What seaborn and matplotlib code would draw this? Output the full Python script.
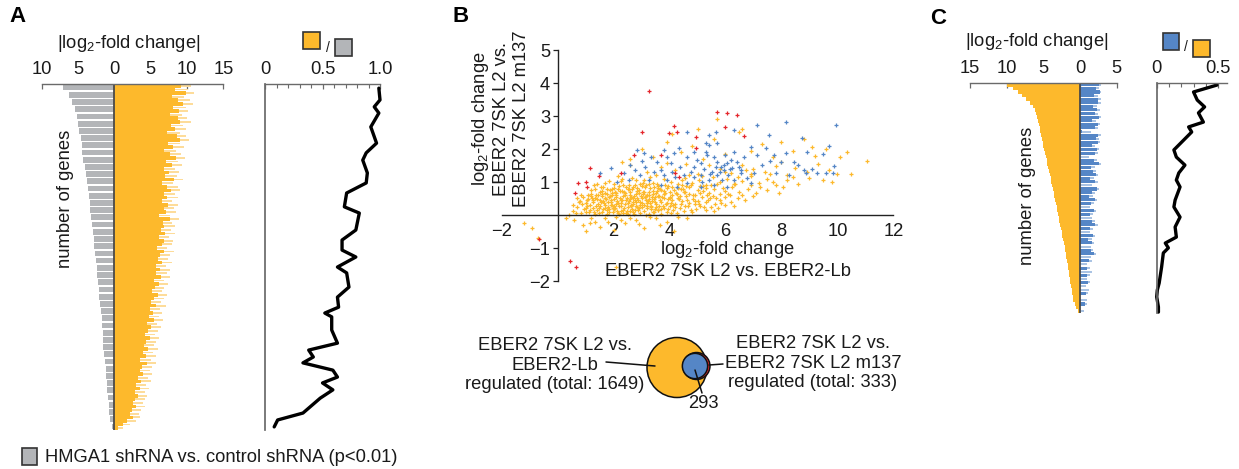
import numpy as np
import matplotlib
matplotlib.use("Agg")
import matplotlib.pyplot as plt
import seaborn as sns
from matplotlib.patches import Rectangle, Circle
from matplotlib.ticker import MultipleLocator

# ---------------- DATA ----------------
# Panel A: bars (rank ordered genes, top -> bottom)
a_grey = [7.0, 6.3, 5.8, 5.4, 5.15, 4.95, 4.8, 4.65, 4.5, 4.4, 4.25, 4.1, 3.95, 3.8, 3.65, 3.5,
          3.4, 3.3, 3.15, 3.05, 2.95, 2.85, 2.75, 2.65, 2.55, 2.45, 2.35, 2.25, 2.15, 2.05, 1.95, 1.85,
          1.75, 1.7, 1.6, 1.55, 1.5, 1.4, 1.3, 1.2, 1.1, 1.0, 0.95, 0.85, 0.8, 0.7, 0.55, 0.3]
a_orange = [9.2, 8.4, 9.8, 7.9, 8.8, 9.5, 8.1, 8.9,
            7.6, 8.7, 9.1, 7.8, 8.3, 7.2, 8.6, 9.0,
            7.4, 8.1, 6.9, 7.7, 8.5, 7.1, 7.9, 6.8,
            7.5, 7.0, 8.2, 6.6, 7.3, 7.8, 6.9, 7.2,
            6.5, 7.4, 6.8, 7.1, 6.2, 7.6, 6.7, 6.9,
            6.4, 7.0, 6.1, 6.8, 6.5, 5.9, 6.9, 6.3,
            6.0, 6.6, 5.7, 6.3, 5.8, 6.4, 5.5, 6.1,
            5.6, 5.2, 6.0, 5.4, 5.0, 5.8, 4.9, 5.3,
            4.8, 5.4, 4.5, 5.0, 4.6, 4.2, 4.9, 4.4,
            4.1, 4.7, 3.9, 4.3, 3.6, 4.5, 3.8, 3.5,
            3.9, 3.3, 3.7, 3.0, 3.5, 2.8, 3.2, 2.9,
            2.6, 3.0, 2.4, 2.1, 2.5, 1.8, 1.2, 0.5]
a_orange_pale = [10.6, 10.1, 11.0, 9.6, 10.4, 10.8, 9.9, 10.2,
                 9.3, 10.0, 10.5, 9.4, 9.8, 9.0, 9.9, 10.3,
                 9.0, 9.6, 8.5, 9.2, 9.7, 8.8, 9.3, 8.4,
                 8.9, 8.6, 9.5, 8.1, 8.8, 9.1, 8.3, 8.7,
                 8.0, 8.7, 8.2, 8.5, 7.7, 8.9, 8.0, 8.3,
                 7.8, 8.4, 7.5, 8.1, 7.9, 7.3, 8.2, 7.6,
                 7.4, 7.9, 7.1, 7.6, 7.2, 7.7, 6.9, 7.4,
                 6.9, 6.6, 7.3, 6.8, 6.4, 7.1, 6.3, 6.6,
                 6.2, 6.7, 5.9, 6.4, 6.0, 5.6, 6.2, 5.8,
                 5.5, 6.0, 5.3, 5.7, 5.0, 5.8, 5.2, 4.9,
                 5.2, 4.7, 5.0, 4.4, 4.8, 4.2, 4.5, 4.2,
                 3.9, 4.2, 3.7, 3.4, 3.6, 3.0, 2.2, 1.2]
# Panel A: ratio (orange / grey) along gene rank (percent)
a_ratio_pos = [1.2, 4.6, 6.6, 8.4, 12.4, 17.1, 19.9, 22, 25.7, 28.6, 31.5, 35.5, 37.3, 42.2, 45.1, 48,
               50, 52.9, 54.6, 58.7, 61.6, 64.5, 66.2, 67.3, 71.1, 74.9, 76.9, 78.9, 80.6, 82.7, 84.7,
               86.4, 88.4, 90.8, 95.1, 97.1, 99.1]
a_ratio = [0.99, 1.0, 0.95, 0.99, 0.92, 0.97, 0.88, 0.85, 0.89, 0.88, 0.71, 0.69, 0.82, 0.79, 0.67, 0.67,
           0.79, 0.63, 0.71, 0.73, 0.63, 0.64, 0.52, 0.58, 0.58, 0.63, 0.38, 0.42, 0.33, 0.59, 0.63,
           0.50, 0.59, 0.48, 0.33, 0.11, 0.08]

# Panel B: scatter
orange_pts = [
    (0.6, -0.15), (0.9, -0.3), (1.2, -0.1), (1.5, -0.35), (1.8, -0.2), (2.1, -0.05), (2.4, -0.25), (2.0, -0.45),
    (1.0, -0.5), (2.8, -0.15), (3.1, -0.4), (3.5, -0.1), (3.9, -0.2), (4.3, -0.05), (4.63, -0.1), (1.35, -0.2),
    (2.6, -0.1), (3.3, -0.05), (4.16, -0.5), (2.07, -1.57), (-1.22, -0.25), (-0.92, -0.38), (-0.72, -0.7), (0.3, -0.1),
    (0.55, 0.12), (0.7, 0.25), (0.82, 0.05), (0.95, 0.18), (1.05, 0.28), (1.12, 0.08), (1.25, 0.2), (1.33, 0.02),
    (1.41, 0.15), (1.52, 0.27), (1.6, 0.1), (1.68, 0.22), (1.75, 0.04), (1.83, 0.17), (1.9, 0.29), (1.98, 0.09),
    (2.05, 0.21), (2.12, 0.13), (2.2, 0.03), (2.28, 0.26), (2.35, 0.16), (2.43, 0.07), (2.5, 0.24), (2.58, 0.11),
    (2.66, 0.19), (2.73, 0.02), (2.8, 0.28), (2.88, 0.14), (2.95, 0.06), (3.03, 0.23), (3.1, 0.12), (3.18, 0.27),
    (3.25, 0.04), (3.33, 0.18), (3.42, 0.09), (3.5, 0.25), (3.6, 0.14), (3.7, 0.03), (3.8, 0.21), (3.9, 0.1),
    (4.0, 0.27), (4.12, 0.16), (4.25, 0.06), (4.38, 0.22), (4.5, 0.12), (4.65, 0.26), (4.8, 0.08), (4.95, 0.19),
    (5.1, 0.28), (5.3, 0.15), (5.5, 0.24), (5.75, 0.2), (6.0, 0.29), (6.3, 0.27), (1.15, 0.14), (1.47, 0.06),
    (1.79, 0.25), (2.0, 0.18), (2.32, 0.05), (2.62, 0.28), (2.9, 0.2), (3.15, 0.01), (3.47, 0.17), (3.75, 0.26),
    (4.05, 0.07), (2.18, 0.27), (1.62, 0.19), (2.7, 0.1), (3.35, 0.28), (3.95, 0.19),
    (0.8, 0.42), (0.92, 0.55), (1.0, 0.35), (1.1, 0.48), (1.18, 0.58), (1.27, 0.38), (1.35, 0.5), (1.43, 0.32),
    (1.5, 0.45), (1.57, 0.57), (1.65, 0.36), (1.72, 0.49), (1.8, 0.4), (1.87, 0.59), (1.95, 0.31), (2.02, 0.47),
    (2.1, 0.55), (2.17, 0.37), (2.25, 0.44), (2.32, 0.58), (2.4, 0.33), (2.47, 0.52), (2.55, 0.41), (2.62, 0.56),
    (2.7, 0.34), (2.78, 0.46), (2.85, 0.53), (2.93, 0.38), (3.0, 0.5), (3.08, 0.31), (3.15, 0.57), (3.23, 0.43),
    (3.3, 0.35), (3.38, 0.54), (3.45, 0.47), (3.53, 0.32), (3.6, 0.59), (3.7, 0.4), (3.8, 0.51), (3.9, 0.36),
    (4.0, 0.56), (4.1, 0.44), (4.2, 0.33), (4.32, 0.52), (4.45, 0.41), (4.58, 0.57), (4.7, 0.35), (4.85, 0.49),
    (5.0, 0.42), (5.15, 0.55), (5.3, 0.38), (5.45, 0.5), (5.62, 0.33), (5.8, 0.46), (6.0, 0.55), (6.2, 0.4),
    (6.45, 0.52), (6.7, 0.45), (7.0, 0.58), (1.22, 0.52), (1.54, 0.38), (1.9, 0.46), (2.28, 0.36), (2.58, 0.49),
    (2.97, 0.58), (3.27, 0.49), (3.65, 0.45), (4.05, 0.37), (4.38, 0.59), (4.9, 0.32), (5.55, 0.58), (2.12, 0.42),
    (1.68, 0.53), (2.8, 0.39), (3.48, 0.56),
    (1.2, 0.65), (1.35, 0.78), (1.5, 0.7), (1.62, 0.86), (1.75, 0.63), (1.88, 0.75), (2.0, 0.82), (2.1, 0.67),
    (2.2, 0.88), (2.3, 0.72), (2.4, 0.61), (2.5, 0.8), (2.6, 0.69), (2.7, 0.85), (2.8, 0.64), (2.9, 0.77),
    (3.0, 0.87), (3.1, 0.7), (3.2, 0.62), (3.3, 0.83), (3.4, 0.74), (3.5, 0.66), (3.6, 0.89), (3.7, 0.76),
    (3.8, 0.63), (3.9, 0.81), (4.0, 0.71), (4.1, 0.86), (4.25, 0.65), (4.4, 0.78), (4.55, 0.69), (4.7, 0.84),
    (4.85, 0.62), (5.0, 0.76), (5.2, 0.88), (5.4, 0.68), (5.6, 0.8), (5.8, 0.64), (6.0, 0.74), (6.25, 0.85),
    (6.5, 0.7), (6.8, 0.79), (7.1, 0.66), (7.5, 0.75), (7.9, 0.68), (2.05, 0.7), (2.45, 0.86), (2.85, 0.72),
    (3.25, 0.69), (3.65, 0.8), (4.15, 0.76), (4.6, 0.88), (5.1, 0.66), (2.65, 0.78), (3.05, 0.64), (1.95, 0.6),
    (3.45, 0.86), (3.85, 0.68), (5.3, 0.81), (6.1, 0.63),
    (2.0, 0.95), (2.3, 1.1), (2.55, 0.92), (2.8, 1.05), (3.05, 0.98), (3.3, 1.15), (3.55, 0.93), (3.8, 1.08),
    (4.05, 1.0), (4.3, 0.94), (4.55, 1.12), (4.8, 0.97), (5.05, 1.06), (5.3, 0.91), (5.55, 1.14), (5.8, 1.0),
    (6.05, 1.09), (6.3, 0.93), (6.6, 1.04), (6.9, 1.18), (7.2, 0.96), (7.5, 1.1), (7.8, 0.92), (8.2, 1.05),
    (8.6, 0.95), (9.0, 1.12), (1.7, 0.98), (2.15, 1.18), (3.15, 0.9), (4.45, 1.05), (5.7, 0.95), (6.45, 1.16),
    (3.2, 1.3), (3.7, 1.45), (4.2, 1.35), (4.6, 1.55), (5.0, 1.25), (5.4, 1.5), (5.8, 1.38), (6.2, 1.28),
    (6.6, 1.52), (7.0, 1.4), (7.4, 1.3), (7.8, 1.48), (8.2, 1.22), (8.5, 1.42), (8.9, 1.3), (9.3, 1.55),
    (9.7, 1.35), (10.0, 1.25), (10.5, 1.25), (11.05, 1.65), (2.6, 1.5), (2.3, 1.6), (3.9, 1.58), (6.9, 1.25),
    (8.0, 1.6), (9.5, 1.05), (9.8, 1.0),
    (3.4, 1.75), (3.9, 2.2), (4.4, 1.9), (4.8, 2.1), (5.2, 1.7), (5.6, 2.3), (6.0, 1.85), (6.5, 2.5),
    (6.9, 1.95), (7.3, 2.15), (7.7, 1.75), (8.0, 2.2), (8.4, 1.95), (8.8, 2.3), (9.2, 1.8), (9.6, 2.0),
    (10.1, 1.75), (10.35, 1.9), (4.1, 2.45), (5.7, 2.9), (6.6, 2.6), (5.0, 2.6), (3.0, 2.0), (2.6, 1.7), (9.1, 2.05),
    (1.08, 0.62), (1.3, 0.9), (1.44, 0.62), (1.58, 0.74), (1.7, 0.3), (1.85, 0.08), (1.93, 0.68), (2.08, 0.33),
    (2.15, 0.79), (2.26, 0.12), (2.37, 0.7), (2.44, 0.45), (2.52, 0.03), (2.6, 0.62), (2.68, 0.4), (2.76, 0.9),
    (2.83, 0.23), (2.92, 0.67), (3.01, 0.37), (3.12, 0.84), (3.2, 0.2), (3.28, 0.6), (3.36, 0.42), (3.44, 0.09),
    (3.55, 0.72), (3.62, 0.28), (3.73, 0.55), (3.85, 0.92), (3.93, 0.47), (4.08, 0.62), (4.18, 0.24), (4.3, 0.82),
    (4.42, 0.34), (4.52, 0.7), (4.62, 0.46), (4.75, 0.15), (4.9, 0.6), (5.05, 0.32), (5.2, 0.72), (5.38, 0.45),
    (5.6, 0.12), (5.85, 0.35), (1.38, 0.28), (1.25, 0.44), (1.0, 0.22), (0.88, 0.32), (0.65, 0.05), (0.75, 0.38),
    (1.6, 0.64), (1.78, 0.8), (2.35, 0.9), (2.95, 0.95), (3.4, 0.97), (2.5, 0.35), (2.22, 0.5), (1.97, 0.22),
    (3.58, 0.16), (3.16, 0.45), (2.74, 0.57), (4.46, 0.9),
    (1.05, 0.45), (1.14, 0.3), (1.21, 0.75), (1.29, 0.1), (1.36, 0.62), (1.42, 0.48), (1.49, 0.2), (1.55, 0.85),
    (1.63, 0.42), (1.7, 0.68), (1.77, 0.14), (1.84, 0.55), (1.91, 0.38), (1.96, 0.8), (2.03, 0.26), (2.09, 0.61),
    (2.16, 0.07), (2.23, 0.74), (2.29, 0.46), (2.36, 0.22), (2.42, 0.66), (2.49, 0.13), (2.56, 0.78), (2.63, 0.31),
    (2.69, 0.5), (2.75, 0.16), (2.82, 0.82), (2.89, 0.44), (2.96, 0.29), (3.04, 0.71), (3.11, 0.56), (3.19, 0.35),
    (3.26, 0.93), (3.34, 0.25), (3.41, 0.65), (3.49, 0.4), (3.57, 0.83), (3.64, 0.58), (3.71, 0.19), (3.79, 0.73),
    (3.87, 0.33), (3.96, 0.88), (4.03, 0.5), (4.13, 0.29), (4.22, 0.68), (4.34, 0.47), (4.48, 0.8), (4.56, 0.27),
    (4.68, 0.64), (4.78, 0.91), (4.92, 0.41), (5.08, 0.87), (5.24, 0.25), (5.35, 0.61), (5.48, 0.9), (5.66, 0.5),
    (5.9, 0.82), (6.15, 0.6), (6.35, 0.95), (6.6, 0.62), (6.9, 0.9), (7.25, 0.85), (7.7, 1.0), (8.05, 0.85),
    (8.4, 1.15), (1.02, 0.09), (0.7, 0.5), (0.85, 0.6), (1.4, 0.95), (1.82, 1.02), (2.25, 1.03), (2.65, 1.12),
    (3.1, 1.05), (3.5, 1.2), (4.7, 1.2), (5.15, 1.18), (6.0, 1.3), (6.75, 1.35), (7.6, 1.25), (1.15, -0.25),
    (1.7, -0.1), (2.25, -0.15), (2.9, -0.28), (3.65, -0.3), (0.55, 0.3), (0.4, 0.0)]
blue_pts = [
    (4.63, 2.53), (5.41, 2.42), (5.65, 2.53), (5.29, 2.17), (5.41, 2.12), (5.71, 2.17), (6.3, 2.58), (7.14, 2.73),
    (7.56, 2.42), (8.15, 2.83), (8.75, 2.32), (9.95, 2.73), (9.7, 2.09), (9.47, 1.85), (9.89, 1.48), (9.59, 1.28),
    (9.29, 1.26), (8.81, 1.36), (8.45, 1.62), (8.15, 1.87), (7.98, 1.62), (7.8, 1.26), (8.27, 1.21), (8.93, 1.92),
    (7.44, 2.02), (7.14, 1.82), (6.9, 2.07), (6.66, 1.77), (7.02, 1.26), (6.78, 1.11), (6.9, 0.96), (6.54, 1.26),
    (6.24, 1.41), (6.07, 1.57), (5.83, 1.46), (5.59, 1.77), (5.35, 1.82), (5.11, 1.57), (4.87, 1.46), (4.63, 1.77),
    (4.33, 2.02), (4.16, 1.87), (3.8, 1.97), (3.56, 1.62), (3.32, 1.77), (3.08, 1.87), (2.84, 1.97), (2.6, 1.52),
    (2.36, 1.26), (2.13, 1.01), (2.54, 1.06), (2.96, 1.21), (3.26, 1.06), (3.68, 1.36), (3.92, 1.06), (4.27, 0.86),
    (4.63, 0.96), (4.87, 1.16), (5.11, 1.21), (5.41, 1.06), (5.71, 1.21), (5.95, 1.36), (6.18, 1.67), (6.0, 1.82),
    (5.29, 1.92), (4.99, 1.67), (4.39, 1.46), (4.04, 1.57), (3.44, 1.31), (3.14, 1.46), (1.89, 1.41), (1.53, 1.26),
    (6.07, 0.86), (5.59, 0.91), (5.11, 0.86), (3.68, 0.91), (9.83, 1.26), (8.87, 1.26), (7.74, 1.82), (6.3, 1.92),
    (6.48, 1.46), (5.53, 1.31), (4.75, 1.31), (4.21, 1.16), (3.8, 1.21), (5.89, 1.06), (5.17, 1.01), (4.87, 1.92),
    (5.71, 1.62), (5.8, 1.3), (6.1, 1.2), (6.3, 1.05), (5.95, 1.5), (6.15, 1.4), (5.65, 1.45), (5.45, 1.25),
    (6.4, 1.6), (6.55, 1.35), (5.25, 1.4), (4.5, 1.2), (4.1, 1.3), (3.9, 1.75), (3.0, 1.65), (2.75, 1.35),
    (7.3, 1.5), (7.6, 1.65), (8.6, 1.5), (9.1, 1.4)]
red_pts = [
    (3.26, 3.77), (5.7, 3.13), (6.07, 3.1), (6.4, 3.03), (4.15, 2.7), (3.0, 2.5), (3.98, 2.47), (4.27, 2.5),
    (6.0, 2.68), (4.93, 2.37), (6.66, 2.39), (1.15, 1.41), (0.73, 0.96), (1.03, 1.01), (0.61, 0.66), (1.47, 1.18),
    (2.27, 1.28), (2.72, 1.82), (3.68, 1.82), (4.2, 1.26), (-0.68, -0.74), (0.43, -1.38), (0.67, -1.59),
    (4.33, 1.16), (4.93, 2.02), (1.05, 0.86)]

# Venn counts
venn_total_lb = 1649
venn_total_m137 = 333
venn_overlap = 293

# Panel C: bars
c_orange = [10.0, 9.2, 8.5, 7.9, 7.3, 6.8, 6.4, 6.15, 5.95, 5.8, 5.7, 5.6, 5.5, 5.4, 5.3, 5.2,
            5.1, 5.0, 4.85, 4.75, 4.65, 4.55, 4.45, 4.35, 4.25, 4.15, 4.0, 3.9, 3.8, 3.7, 3.6, 3.5,
            3.4, 3.3, 3.2, 3.1, 3.0, 2.9, 2.8, 2.7, 2.6, 2.5, 2.4, 2.3, 2.2, 2.1, 2.0, 1.95,
            1.85, 1.75, 1.7, 1.6, 1.5, 1.45, 1.35, 1.3, 1.2, 1.15, 1.05, 1.0, 0.9, 0.75, 0.55, 0.3]
c_blue = [2.6, 2.2, 2.7, 1.9, 2.4, 2.5, 1.8, 2.3,
          2.1, 2.6, 1.7, 2.4, 2.0, 0.3, 2.5, 2.2,
          2.4, 1.6, 2.3, 2.1, 0, 1.9, 2.6, 1.5,
          1.8, 2.2, 1.4, 2.0, 0, 2.3, 1.7, 1.2,
          2.0, 1.5, 0, 1.9, 1.3, 0.2, 1.7, 2.1,
          1.4, 0, 1.8, 1.1, 1.6, 0, 1.5, 1.9,
          0, 1.2, 0, 1.0, 0, 0.9, 0, 1.1,
          0, 0, 0.8, 0, 0, 0.7, 0, 0]
c_blue_pale = [2.9, 2.6, 2.9, 2.4, 2.8, 2.8, 2.3, 2.7,
               2.5, 2.9, 2.2, 2.7, 2.4, 1.5, 2.8, 2.6,
               2.7, 2.1, 2.6, 2.5, 1.2, 2.3, 2.9, 2.0,
               2.2, 2.5, 1.9, 2.4, 1.6, 2.6, 2.1, 1.8,
               2.3, 1.9, 1.4, 2.2, 1.8, 1.7, 2.1, 2.4,
               1.8, 1.3, 2.1, 1.6, 1.9, 1.5, 1.8, 2.2,
               1.5, 1.6, 1.0, 1.4, 1.7, 1.3, 1.0, 1.4,
               0.8, 1.2, 1.1, 0, 1.0, 0.9, 0, 0.6]
c_ratio_pos = [0.9, 3.9, 7.4, 10.4, 13, 17, 19.1, 21.3, 24.8, 29.1, 32.2, 35.7, 39.1, 42.2, 45.2, 50.9,
               53.9, 58.3, 62.6, 67, 69.6, 71.7, 73.9, 80, 87, 90, 93, 97.4, 99.6]
c_ratio = [0.49, 0.30, 0.33, 0.39, 0.34, 0.38, 0.26, 0.285, 0.22, 0.14, 0.16, 0.23, 0.18, 0.16, 0.19, 0.15,
           0.14, 0.19, 0.15, 0.16, 0.07, 0.095, 0.054, 0.04, 0.02, 0.005, 0.0, 0.014, 0.014]

# ---------------- STYLE ----------------
W, H = 1239, 469
sns.set_theme(style="white")
plt.rcParams['font.family'] = ['Liberation Sans', 'DejaVu Sans']
plt.rcParams['mathtext.fontset'] = 'custom'
plt.rcParams['mathtext.rm'] = 'Liberation Sans'
plt.rcParams['mathtext.it'] = 'Liberation Sans:italic'
plt.rcParams['mathtext.bf'] = 'Liberation Sans:bold'

FS = 13.2
ORANGE = '#FDB92C'
PALE_OR = '#FDDC9A'
GREY = '#B3B5B8'
BLUE = '#5586C6'
PALE_BLUE = '#AAC3E3'
RED = '#E4262C'
AX = '#6a6a6a'
TXT = '#1a1a1a'

fig = plt.figure(figsize=(W / 100, H / 100), dpi=100)


def rect(x0, y0, x1, y1):
    return [x0 / W, 1 - y1 / H, (x1 - x0) / W, (y1 - y0) / H]


def top_axis(ax):
    ax.xaxis.tick_top()
    for s in ['left', 'right', 'bottom']:
        ax.spines[s].set_visible(False)
    ax.spines['top'].set_color(AX)
    ax.spines['top'].set_linewidth(1.0)
    ax.tick_params(axis='x', which='both', direction='in', color=AX, labelsize=FS, pad=4.5,
                   labelcolor=TXT, top=True, bottom=False)
    ax.tick_params(axis='x', which='major', length=3.5, width=0.9)
    ax.tick_params(axis='x', which='minor', length=3, width=0.8)
    ax.set_yticks([])
    ax.patch.set_alpha(0)


# ---------------- PANEL A: bars ----------------
axA = fig.add_axes(rect(41.7, 84, 223.3, 430))
n_o = len(a_orange)
ho = 100 / n_o
yo = (np.arange(n_o) + 0.5) * ho
axA.barh(yo, a_orange_pale, height=ho * 0.5, color=PALE_OR, lw=0)
axA.barh(yo, a_orange, height=ho, color=ORANGE, lw=0)
n_g = len(a_grey)
hg = 100 / n_g
yg = (np.arange(n_g) + 0.5) * hg
axA.barh(yg, -np.array(a_grey), height=hg * 0.8, color=GREY, lw=0)
axA.axvline(0, color='#4a4a4a', lw=1.3)
axA.set_xlim(-10, 15)
axA.set_ylim(100, 0)
axA.set_xticks([-10, -5, 0, 5, 10, 15])
axA.set_xticklabels(['10', '5', '0', '5', '10', '15'])
top_axis(axA)

# ---------------- PANEL A: ratio ----------------
axA2 = fig.add_axes(rect(265, 84, 380, 430))
sns.lineplot(x=a_ratio, y=a_ratio_pos, sort=False, estimator=None, color='black', lw=2.4,
             ax=axA2, clip_on=False)
axA2.set_xlim(0, 1.0)
axA2.set_ylim(100, 0)
axA2.set_xticks([0, 0.5, 1.0])
axA2.set_xticklabels(['0', '0.5', '1.0'])
axA2.xaxis.set_minor_locator(MultipleLocator(0.1))
top_axis(axA2)
axA2.spines['left'].set_visible(True)
axA2.spines['left'].set_color(AX)

# ---------------- PANEL B: scatter ----------------
axB = fig.add_axes(rect(501.7, 50, 893.3, 281))
ox, oy = zip(*orange_pts)
bx, by = zip(*blue_pts)
rx, ry = zip(*red_pts)
MS = 7
sns.scatterplot(x=list(ox), y=list(oy), color=ORANGE, marker='+', s=MS, linewidth=0.9, ax=axB, zorder=2)
sns.scatterplot(x=list(bx), y=list(by), color=BLUE, marker='+', s=MS, linewidth=0.9, ax=axB, zorder=3)
sns.scatterplot(x=list(rx), y=list(ry), color=RED, marker='+', s=MS, linewidth=0.9, ax=axB, zorder=4)
axB.set_xlim(-2, 12)
axB.set_ylim(-2, 5)
axB.spines['left'].set_position(('data', 0))
axB.spines['bottom'].set_position(('data', 0))
axB.spines['top'].set_visible(False)
axB.spines['right'].set_visible(False)
for s in ['left', 'bottom']:
    axB.spines[s].set_color('#222222')
    axB.spines[s].set_linewidth(1.0)
    axB.spines[s].set_zorder(5)
axB.set_xticks([-2, 2, 4, 6, 8, 10, 12])
axB.set_yticks([-2, -1, 1, 2, 3, 4, 5])
axB.tick_params(axis='x', length=0, pad=5.5, labelsize=FS, labelcolor=TXT)
axB.tick_params(axis='y', direction='out', length=3.5, width=0.9, color='#222222', pad=2,
                labelsize=FS, labelcolor=TXT, left=True)
axB.patch.set_alpha(0)

# ---------------- PANEL C: bars ----------------
axC = fig.add_axes(rect(970, 83, 1116.7, 313))
n_c = len(c_orange)
hc = 100 / n_c
yc = (np.arange(n_c) + 0.5) * hc
axC.barh(yc, -np.array(c_orange), height=hc, color=ORANGE, lw=0)
axC.barh(yc, c_blue_pale, height=hc * 0.55, color=PALE_BLUE, lw=0)
axC.barh(yc, c_blue, height=hc * 0.85, color=BLUE, lw=0)
axC.axvline(0, color='#4a4a4a', lw=1.3)
axC.set_xlim(-15, 5)
axC.set_ylim(100, 0)
axC.set_xticks([-15, -10, -5, 0, 5])
axC.set_xticklabels(['15', '10', '5', '0', '5'])
top_axis(axC)

# ---------------- PANEL C: ratio ----------------
axC2 = fig.add_axes(rect(1156.7, 83, 1226.7, 313))
sns.lineplot(x=c_ratio, y=c_ratio_pos, sort=False, estimator=None, color='black', lw=2.4,
             ax=axC2, clip_on=False)
axC2.set_xlim(0, 0.57)
axC2.set_ylim(100, 0)
axC2.set_xticks([0, 0.5])
axC2.set_xticklabels(['0', '0.5'])
axC2.xaxis.set_minor_locator(MultipleLocator(0.1))
top_axis(axC2)
axC2.spines['left'].set_visible(True)
axC2.spines['left'].set_color(AX)

# ---------------- OVERLAY: labels, legends, venn ----------------
ov = fig.add_axes([0, 0, 1, 1])
ov.set_xlim(0, W)
ov.set_ylim(H, 0)
ov.axis('off')
ov.patch.set_alpha(0)

kw = dict(fontsize=FS, color=TXT)
# panel letters
ov.text(17, 17, 'A', fontsize=16, fontweight='bold', ha='center', va='center', color='black')
ov.text(461, 17, 'B', fontsize=16, fontweight='bold', ha='center', va='center', color='black')
ov.text(938, 19, 'C', fontsize=16, fontweight='bold', ha='center', va='center', color='black')

# axis titles
ov.text(129, 44, '|log$_2$-fold change|', ha='center', va='center', **kw)
ov.text(1037, 42, '|log$_2$-fold change|', ha='center', va='center', **kw)
ov.text(65, 199, 'number of genes', rotation=90, ha='center', va='center', **kw)
ov.text(1027, 196, 'number of genes', rotation=90, ha='center', va='center', **kw)

# ratio legends
ov.add_patch(Rectangle((303, 32), 17, 17, fc=ORANGE, ec='#333333', lw=1.2))
ov.text(327.5, 48, '/', ha='center', va='center', fontsize=10, color=TXT)
ov.add_patch(Rectangle((335, 39), 17, 17, fc=GREY, ec='#333333', lw=1.2))
ov.add_patch(Rectangle((1163, 33), 16, 17, fc=BLUE, ec='#333333', lw=1.2))
ov.text(1186, 47, '/', ha='center', va='center', fontsize=10, color=TXT)
ov.add_patch(Rectangle((1193, 40), 17, 17, fc=ORANGE, ec='#333333', lw=1.2))

# bottom legend
ov.add_patch(Rectangle((22, 448), 15, 17, fc=GREY, ec='#333333', lw=1.2))
ov.text(45, 457, 'HMGA1 shRNA vs. control shRNA (p<0.01)', ha='left', va='center', **kw)

# scatter labels
ov.text(500, 119, 'log$_2$-fold change\nEBER2 7SK L2 vs.\nEBER2 7SK L2 m137', rotation=90,
        ha='center', va='center', linespacing=1.2, **kw)
ov.text(727, 249, 'log$_2$-fold change', ha='center', va='center', **kw)
ov.text(728, 272, 'EBER2 7SK L2 vs. EBER2-Lb', ha='center', va='center', **kw)

# venn (areas proportional to counts)
R0 = 30.0
r_lb = R0
r_m = R0 * np.sqrt(venn_total_m137 / venn_total_lb)
r_ov = R0 * np.sqrt(venn_overlap / venn_total_lb)
ov.add_patch(Circle((677, 367.5), r_lb, fc=ORANGE, ec='#111111', lw=1.1, zorder=2))
ov.add_patch(Circle((696.5, 366), r_m, fc=RED, ec='#111111', lw=1.1, zorder=3))
ov.add_patch(Circle((695, 366), r_ov, fc=BLUE, ec='#111111', lw=1.1, zorder=4))
ov.plot([606, 655], [362, 366], color='#111111', lw=1.1, zorder=5)
ov.plot([709, 723], [365, 364], color='#111111', lw=1.1, zorder=5)
ov.plot([695, 702], [370, 393], color='#111111', lw=1.1, zorder=5)
ov.text(555, 365, 'EBER2 7SK L2 vs.\nEBER2-Lb\nregulated (total: %d)' % venn_total_lb,
        ha='center', va='center', linespacing=1.2, **kw)
ov.text(813, 363, 'EBER2 7SK L2 vs.\nEBER2 7SK L2 m137\nregulated (total: %d)' % venn_total_m137,
        ha='center', va='center', linespacing=1.2, **kw)
ov.text(703, 404, '%d' % venn_overlap, ha='center', va='center', **kw)

fig.savefig('out.png', dpi=100)
